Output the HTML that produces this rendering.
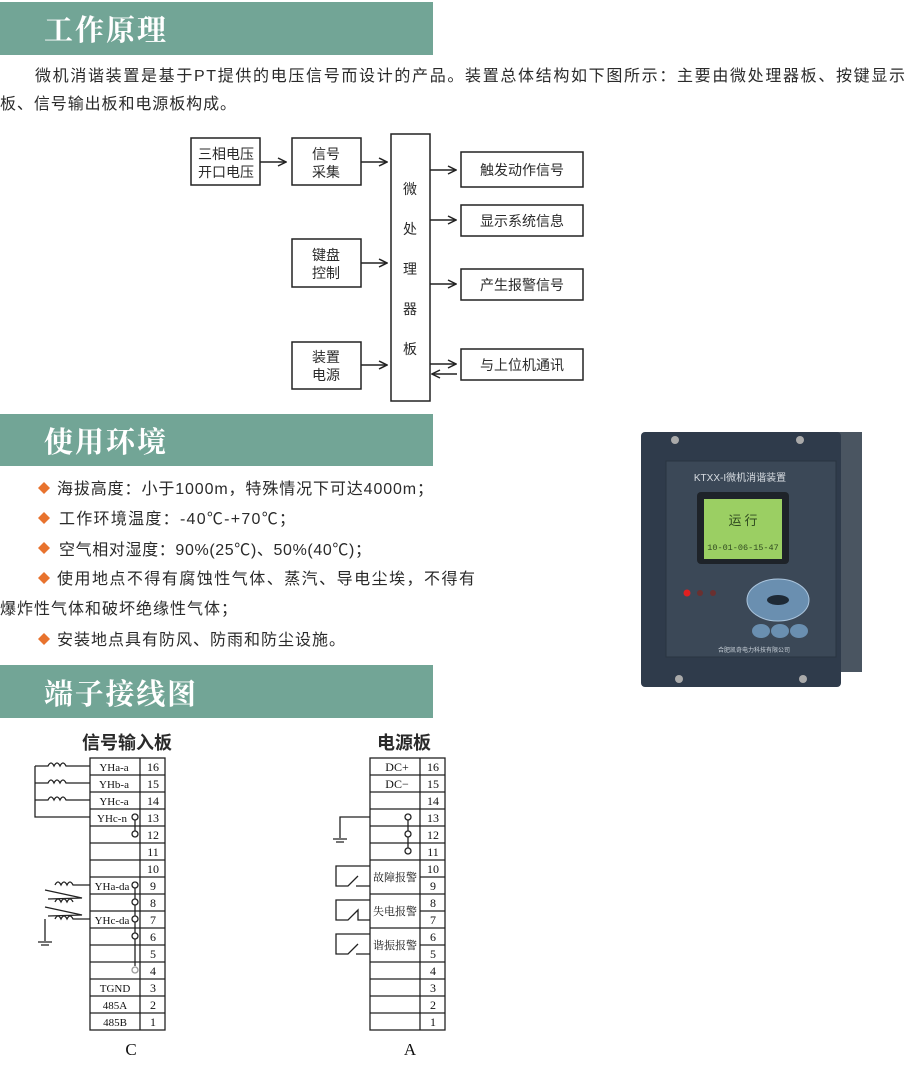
<!DOCTYPE html>
<html><head><meta charset="utf-8"><style>
html,body{margin:0;padding:0;background:#fff;}
svg{display:block;}
.t{font-family:"Liberation Sans","Noto Sans CJK SC",sans-serif;fill:#2a2a2a;}
.h{font-family:"Liberation Serif","Noto Serif CJK SC",serif;font-weight:bold;fill:#fff;font-size:29px;}
.s{font-family:"Liberation Serif","Noto Serif CJK SC",serif;fill:#111;}
</style></head><body>
<svg width="910" height="1067" viewBox="0 0 910 1067" xmlns="http://www.w3.org/2000/svg">
<defs>
<marker id="ar" markerWidth="10" markerHeight="10" refX="9" refY="5" orient="auto" markerUnits="userSpaceOnUse"><path d="M1,1 L9,5 L1,9" fill="none" stroke="#222" stroke-width="1.5"/></marker>
</defs>
<rect x="0" y="2" width="433" height="53" fill="#72a596"/>
<text x="44" y="40" class="h" textLength="122">工作原理</text>
<rect x="0" y="414" width="433" height="52" fill="#72a596"/>
<text x="44" y="452" class="h" textLength="122">使用环境</text>
<rect x="0" y="665" width="433" height="53" fill="#72a596"/>
<text x="44" y="704" class="h" textLength="152">端子接线图</text>

<text x="35" y="81" class="t" font-size="16" textLength="870">微机消谐装置是基于PT提供的电压信号而设计的产品。装置总体结构如下图所示：主要由微处理器板、按键显示</text>
<text x="0" y="109" class="t" font-size="16" textLength="236">板、信号输出板和电源板构成。</text>

<g fill="none" stroke="#222" stroke-width="1.5">
<rect x="191" y="138" width="69" height="47"/>
<rect x="292" y="138" width="69" height="47"/>
<rect x="391" y="134" width="39" height="267"/>
<rect x="292" y="239" width="69" height="48"/>
<rect x="292" y="342" width="69" height="47"/>
<rect x="461" y="152" width="122" height="35"/>
<rect x="461" y="205" width="122" height="31"/>
<rect x="461" y="269" width="122" height="31"/>
<rect x="461" y="349" width="122" height="31"/>
<line x1="260" y1="162" x2="286" y2="162" marker-end="url(#ar)"/>
<line x1="361" y1="162" x2="387" y2="162" marker-end="url(#ar)"/>
<line x1="361" y1="263" x2="387" y2="263" marker-end="url(#ar)"/>
<line x1="361" y1="365" x2="387" y2="365" marker-end="url(#ar)"/>
<line x1="430" y1="170" x2="456" y2="170" marker-end="url(#ar)"/>
<line x1="430" y1="220" x2="456" y2="220" marker-end="url(#ar)"/>
<line x1="430" y1="284" x2="456" y2="284" marker-end="url(#ar)"/>
<line x1="430" y1="364" x2="456" y2="364" marker-end="url(#ar)"/>
<line x1="457" y1="374" x2="432" y2="374" marker-end="url(#ar)"/>
</g>
<g class="t" font-size="14" text-anchor="middle">
<text x="226" y="159">三相电压</text><text x="226" y="177">开口电压</text>
<text x="326" y="159">信号</text><text x="326" y="177">采集</text>
<text x="326" y="260">键盘</text><text x="326" y="278">控制</text>
<text x="326" y="362">装置</text><text x="326" y="380">电源</text>
<text x="410" y="194">微</text><text x="410" y="234">处</text><text x="410" y="274">理</text><text x="410" y="314">器</text><text x="410" y="354">板</text>
<text x="522" y="175">触发动作信号</text>
<text x="522" y="226">显示系统信息</text>
<text x="522" y="290">产生报警信号</text>
<text x="522" y="370">与上位机通讯</text>
</g>

<g fill="#e8732e">
<path d="M44,482 L50,488 L44,494 L38,488Z"/>
<path d="M44,512 L50,518 L44,524 L38,518Z"/>
<path d="M44,542 L50,548 L44,554 L38,548Z"/>
<path d="M44,572 L50,578 L44,584 L38,578Z"/>
<path d="M44,633 L50,639 L44,645 L38,639Z"/>
</g>
<g class="t" font-size="16">
<text x="57" y="494" textLength="376">海拔高度：小于1000m，特殊情况下可达4000m；</text>
<text x="59" y="524" textLength="236">工作环境温度：-40℃-+70℃；</text>
<text x="59" y="555" textLength="312">空气相对湿度：90%(25℃)、50%(40℃)；</text>
<text x="57" y="584" textLength="418">使用地点不得有腐蚀性气体、蒸汽、导电尘埃，不得有</text>
<text x="0" y="614" textLength="237">爆炸性气体和破坏绝缘性气体；</text>
<text x="57" y="645" textLength="288">安装地点具有防风、防雨和防尘设施。</text>
</g>

<rect x="820" y="432" width="42" height="240" fill="#4a5561"/>
<rect x="641" y="432" width="200" height="255" rx="4" fill="#2f3b4b"/>
<rect x="666" y="461" width="170" height="196" fill="#3b4857" stroke="#2a3440"/>
<text x="740" y="481" font-family="Liberation Sans,Noto Sans CJK SC,sans-serif" font-size="10" fill="#d8dde2" text-anchor="middle">KTXX-I微机消谐装置</text>
<rect x="697" y="492" width="92" height="72" rx="4" fill="#1e2329"/>
<rect x="704" y="499" width="78" height="60" fill="#9bcf63"/>
<text x="743" y="525" font-family="Noto Sans CJK SC,sans-serif" font-size="13" fill="#304a20" text-anchor="middle">运 行</text>
<text x="743" y="550" font-family="Liberation Mono,monospace" font-size="8.5" fill="#304a20" text-anchor="middle">10-01-06-15-47</text>
<circle cx="687" cy="593" r="3.5" fill="#e02020"/>
<circle cx="700" cy="593" r="3" fill="#6a3030"/>
<circle cx="713" cy="593" r="3" fill="#6a3030"/>
<ellipse cx="778" cy="600" rx="31" ry="21" fill="#6a8fb0" stroke="#aac4dc"/>
<ellipse cx="778" cy="600" rx="11" ry="5" fill="#1e2a36"/>
<ellipse cx="761" cy="631" rx="9" ry="7" fill="#6a8fb0"/>
<ellipse cx="780" cy="631" rx="9" ry="7" fill="#6a8fb0"/>
<ellipse cx="799" cy="631" rx="9" ry="7" fill="#6a8fb0"/>
<text x="718" y="652" font-family="Noto Sans CJK SC,sans-serif" font-size="6" fill="#c8d0d8">合肥凯奇电力科技有限公司</text>
<circle cx="675" cy="440" r="4" fill="#aaa"/><circle cx="800" cy="440" r="4" fill="#aaa"/>
<circle cx="679" cy="679" r="4" fill="#aaa"/><circle cx="803" cy="679" r="4" fill="#aaa"/>

<text x="127" y="749" class="t" font-size="18" font-weight="bold" text-anchor="middle" fill="#111">信号输入板</text>
<g fill="none" stroke="#222" stroke-width="1.3">
<rect x="90" y="758" width="75" height="272"/>
<line x1="140" y1="758" x2="140" y2="1030"/>
<path d="M90,775H165M90,792H165M90,809H165M90,826H165M90,843H165M90,860H165M90,877H165M90,894H165M90,911H165M90,928H165M90,945H165M90,962H165M90,979H165M90,996H165M90,1013H165"/>
<path d="M35,766H48 q3,-6 6,0 q3,-6 6,0 q3,-6 6,0 H90"/>
<path d="M35,783H48 q3,-6 6,0 q3,-6 6,0 q3,-6 6,0 H90"/>
<path d="M35,800H48 q3,-6 6,0 q3,-6 6,0 q3,-6 6,0 H90"/>
<path d="M35,766V817H90"/>
<line x1="135" y1="820" x2="135" y2="831"/>
<circle cx="135" cy="817" r="3" fill="#fff"/><circle cx="135" cy="834" r="3" fill="#fff"/>
<path d="M55,885 q3,-6 6,0 q3,-6 6,0 q3,-6 6,0 H90"/>
<path d="M55,902 q3,-6 6,0 q3,-6 6,0 q3,-6 6,0"/>
<path d="M55,919 q3,-6 6,0 q3,-6 6,0 q3,-6 6,0 H90"/>
<path d="M45,890 L82,898 L48,899 M45,907 L82,915 L48,916"/>
<path d="M45,919V941M38,942H52M41,945H49"/>
<path d="M135,886V966"/>
<circle cx="135" cy="885" r="3" fill="#fff"/><circle cx="135" cy="902" r="3" fill="#fff"/><circle cx="135" cy="919" r="3" fill="#fff"/><circle cx="135" cy="936" r="3" fill="#fff"/>
<circle cx="135" cy="970" r="3" fill="#fff" stroke="#999"/>
</g>
<g class="s" font-size="11" text-anchor="middle">
<text x="114" y="771">YHa-a</text><text x="114" y="788">YHb-a</text><text x="114" y="805">YHc-a</text><text x="112" y="822">YHc-n</text>
<text x="112" y="890">YHa-da</text><text x="112" y="924">YHc-da</text>
<text x="115" y="992">TGND</text><text x="115" y="1009">485A</text><text x="115" y="1026">485B</text>
</g>
<g class="s" font-size="12" text-anchor="middle">
<text x="153" y="771">16</text><text x="153" y="788">15</text><text x="153" y="805">14</text><text x="153" y="822">13</text><text x="153" y="839">12</text><text x="153" y="856">11</text><text x="153" y="873">10</text><text x="153" y="890">9</text><text x="153" y="907">8</text><text x="153" y="924">7</text><text x="153" y="941">6</text><text x="153" y="958">5</text><text x="153" y="975">4</text><text x="153" y="992">3</text><text x="153" y="1009">2</text><text x="153" y="1026">1</text>
</g>
<text x="131" y="1055" class="s" font-size="17" text-anchor="middle">C</text>

<text x="404" y="749" class="t" font-size="18" font-weight="bold" text-anchor="middle" fill="#111">电源板</text>
<g fill="none" stroke="#222" stroke-width="1.3">
<rect x="370" y="758" width="75" height="272"/>
<line x1="420" y1="758" x2="420" y2="1030"/>
<path d="M370,775H445M370,792H445M370,809H445M370,826H445M370,843H445M370,860H445M420,877H445M370,894H445M420,911H445M370,928H445M420,945H445M370,962H445M370,979H445M370,996H445M370,1013H445"/>
<circle cx="408" cy="817" r="3" fill="#fff"/><circle cx="408" cy="834" r="3" fill="#fff"/><circle cx="408" cy="851" r="3" fill="#fff"/>
<path d="M408,820V831M408,837V848"/>
<path d="M370,817H340V838M333,839H347M336,842H344"/>
<path d="M370,866H336V886H348L358,876M356,886H370"/>
<path d="M370,900H336V920H348L358,910V920H370"/>
<path d="M370,934H336V954H348L358,944M356,954H370"/>
</g>
<g class="s" font-size="12" text-anchor="middle">
<text x="397" y="771">DC+</text><text x="397" y="788">DC−</text>
<text x="433" y="771">16</text><text x="433" y="788">15</text><text x="433" y="805">14</text><text x="433" y="822">13</text><text x="433" y="839">12</text><text x="433" y="856">11</text><text x="433" y="873">10</text><text x="433" y="890">9</text><text x="433" y="907">8</text><text x="433" y="924">7</text><text x="433" y="941">6</text><text x="433" y="958">5</text><text x="433" y="975">4</text><text x="433" y="992">3</text><text x="433" y="1009">2</text><text x="433" y="1026">1</text>
</g>
<g font-family="Noto Serif CJK SC,serif" font-size="11" fill="#111" text-anchor="middle">
<text x="395" y="881">故障报警</text><text x="395" y="915">失电报警</text><text x="395" y="949">谐振报警</text>
</g>
<text x="410" y="1055" class="s" font-size="17" text-anchor="middle">A</text>
</svg>
</body></html>
